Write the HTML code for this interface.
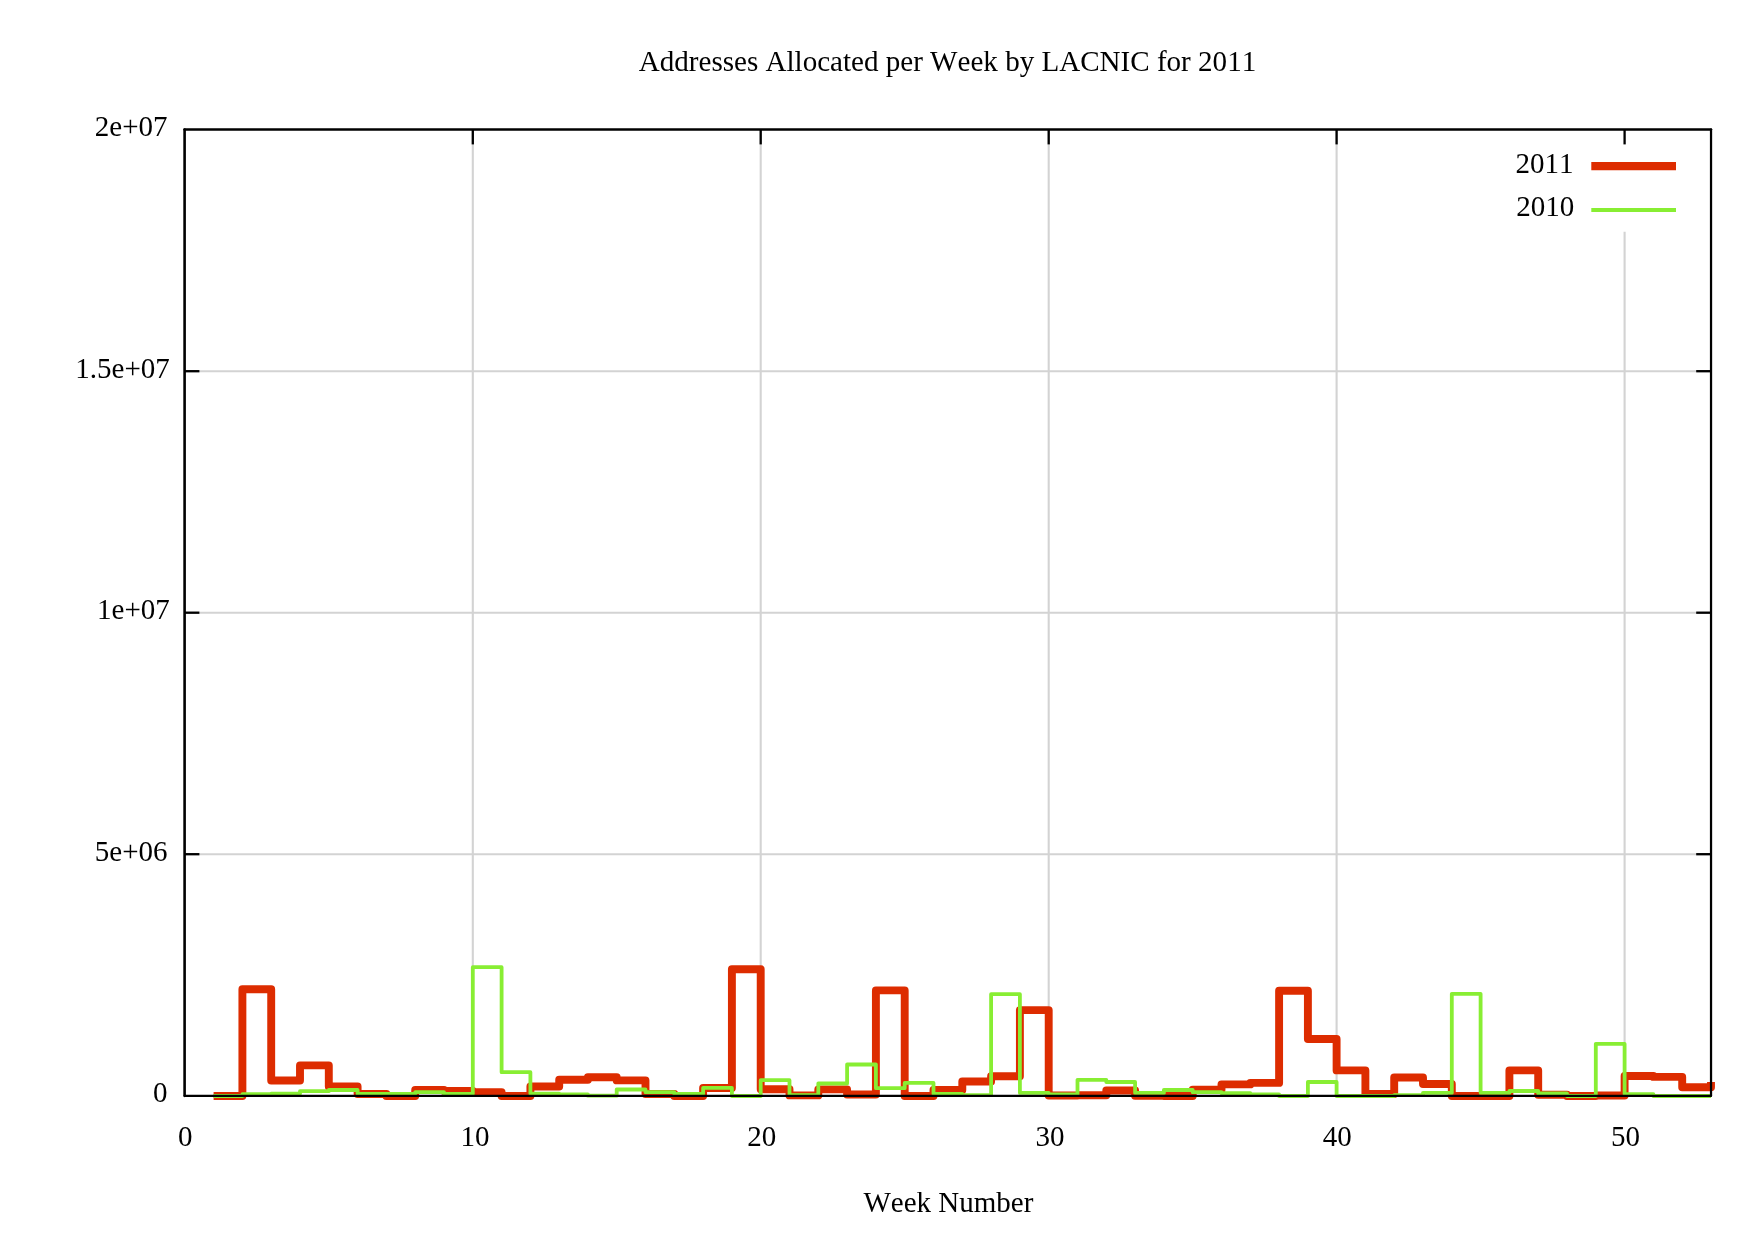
<!DOCTYPE html>
<html lang="en"><head><meta charset="utf-8"><title>Addresses Allocated per Week by LACNIC for 2011</title>
<style>html,body{margin:0;padding:0;background:#fff}svg{display:block;will-change:transform}text{font-family:"Liberation Serif",serif;font-size:29.0px;fill:#000;font-kerning:none}</style></head><body>
<svg width="1762" height="1237" viewBox="0 0 1762 1237">
<rect width="1762" height="1237" fill="#fff"/>
<g stroke="#d3d3d3" stroke-width="2.1" fill="none">
<line x1="184.8" y1="854.2" x2="1711.0" y2="854.2"/>
<line x1="184.8" y1="612.7" x2="1711.0" y2="612.7"/>
<line x1="184.8" y1="371.2" x2="1711.0" y2="371.2"/>
<line x1="472.8" y1="129.6" x2="472.8" y2="1095.8"/>
<line x1="760.7" y1="129.6" x2="760.7" y2="1095.8"/>
<line x1="1048.7" y1="129.6" x2="1048.7" y2="1095.8"/>
<line x1="1336.6" y1="129.6" x2="1336.6" y2="1095.8"/>
<line x1="1624.6" y1="231.8" x2="1624.6" y2="1095.8"/>
</g>
<g stroke="#000" stroke-width="2.3" fill="none">
<line x1="472.8" y1="129.6" x2="472.8" y2="144.4"/>
<line x1="472.8" y1="1095.8" x2="472.8" y2="1081.0"/>
<line x1="760.7" y1="129.6" x2="760.7" y2="144.4"/>
<line x1="760.7" y1="1095.8" x2="760.7" y2="1081.0"/>
<line x1="1048.7" y1="129.6" x2="1048.7" y2="144.4"/>
<line x1="1048.7" y1="1095.8" x2="1048.7" y2="1081.0"/>
<line x1="1336.6" y1="129.6" x2="1336.6" y2="144.4"/>
<line x1="1336.6" y1="1095.8" x2="1336.6" y2="1081.0"/>
<line x1="1624.6" y1="129.6" x2="1624.6" y2="144.4"/>
<line x1="1624.6" y1="1095.8" x2="1624.6" y2="1081.0"/>
<line x1="184.6" y1="854.2" x2="199.4" y2="854.2"/>
<line x1="1711.0" y1="854.2" x2="1696.2" y2="854.2"/>
<line x1="184.6" y1="612.7" x2="199.4" y2="612.7"/>
<line x1="1711.0" y1="612.7" x2="1696.2" y2="612.7"/>
<line x1="184.6" y1="371.2" x2="199.4" y2="371.2"/>
<line x1="1711.0" y1="371.2" x2="1696.2" y2="371.2"/>
</g>
<path d="M213.6 1096.0 L242.4 1096.0 L242.4 989.2 L271.2 989.2 L271.2 1080.5 L300.0 1080.5 L300.0 1065.4 L328.8 1065.4 L328.8 1086.4 L357.6 1086.4 L357.6 1094.0 L386.4 1094.0 L386.4 1096.0 L415.2 1096.0 L415.2 1090.0 L444.0 1090.0 L444.0 1091.0 L472.8 1091.0 L472.8 1092.2 L501.6 1092.2 L501.6 1096.0 L530.4 1096.0 L530.4 1086.5 L559.2 1086.5 L559.2 1079.8 L587.9 1079.8 L587.9 1077.2 L616.7 1077.2 L616.7 1080.4 L645.5 1080.4 L645.5 1094.0 L674.3 1094.0 L674.3 1096.0 L703.1 1096.0 L703.1 1088.0 L731.9 1088.0 L731.9 969.2 L760.7 969.2 L760.7 1089.2 L789.5 1089.2 L789.5 1095.4 L818.3 1095.4 L818.3 1089.4 L847.1 1089.4 L847.1 1094.5 L875.9 1094.5 L875.9 990.4 L904.7 990.4 L904.7 1096.0 L933.5 1096.0 L933.5 1090.0 L962.3 1090.0 L962.3 1081.5 L991.1 1081.5 L991.1 1076.2 L1019.9 1076.2 L1019.9 1010.1 L1048.7 1010.1 L1048.7 1095.5 L1077.5 1095.5 L1077.5 1095.2 L1106.3 1095.2 L1106.3 1090.5 L1135.1 1090.5 L1135.1 1095.7 L1163.9 1095.7 L1163.9 1096.0 L1192.7 1096.0 L1192.7 1089.8 L1221.5 1089.8 L1221.5 1084.4 L1250.3 1084.4 L1250.3 1082.9 L1279.1 1082.9 L1279.1 990.8 L1307.9 990.8 L1307.9 1039.0 L1336.6 1039.0 L1336.6 1070.4 L1365.4 1070.4 L1365.4 1094.0 L1394.2 1094.0 L1394.2 1077.5 L1423.0 1077.5 L1423.0 1084.0 L1451.8 1084.0 L1451.8 1096.0 L1480.6 1096.0 L1480.6 1096.0 L1509.4 1096.0 L1509.4 1070.4 L1538.2 1070.4 L1538.2 1094.8 L1567.0 1094.8 L1567.0 1096.0 L1595.8 1096.0 L1595.8 1095.5 L1624.6 1095.5 L1624.6 1076.0 L1653.4 1076.0 L1653.4 1076.9 L1682.2 1076.9 L1682.2 1087.2 L1711.0 1087.2 L1711.0 1082.0" fill="none" stroke="#dd2c00" stroke-width="7.9" stroke-linejoin="round" stroke-linecap="butt"/>
<path d="M213.6 1096.0 L242.4 1096.0 L242.4 1094.2 L271.2 1094.2 L271.2 1093.7 L300.0 1093.7 L300.0 1091.2 L328.8 1091.2 L328.8 1090.0 L357.6 1090.0 L357.6 1094.0 L386.4 1094.0 L386.4 1094.0 L415.2 1094.0 L415.2 1092.2 L444.0 1092.2 L444.0 1094.0 L472.8 1094.0 L472.8 967.2 L501.6 967.2 L501.6 1072.2 L530.4 1072.2 L530.4 1093.7 L559.2 1093.7 L559.2 1094.5 L587.9 1094.5 L587.9 1095.7 L616.7 1095.7 L616.7 1089.5 L645.5 1089.5 L645.5 1092.2 L674.3 1092.2 L674.3 1094.0 L703.1 1094.0 L703.1 1087.9 L731.9 1087.9 L731.9 1096.0 L760.7 1096.0 L760.7 1080.2 L789.5 1080.2 L789.5 1095.2 L818.3 1095.2 L818.3 1083.5 L847.1 1083.5 L847.1 1064.5 L875.9 1064.5 L875.9 1088.2 L904.7 1088.2 L904.7 1082.9 L933.5 1082.9 L933.5 1094.0 L962.3 1094.0 L962.3 1095.2 L991.1 1095.2 L991.1 994.2 L1019.9 994.2 L1019.9 1092.9 L1048.7 1092.9 L1048.7 1094.5 L1077.5 1094.5 L1077.5 1079.8 L1106.3 1079.8 L1106.3 1082.0 L1135.1 1082.0 L1135.1 1092.9 L1163.9 1092.9 L1163.9 1090.0 L1192.7 1090.0 L1192.7 1092.2 L1221.5 1092.2 L1221.5 1093.2 L1250.3 1093.2 L1250.3 1094.5 L1279.1 1094.5 L1279.1 1096.0 L1307.9 1096.0 L1307.9 1082.0 L1336.6 1082.0 L1336.6 1096.0 L1365.4 1096.0 L1365.4 1096.0 L1394.2 1096.0 L1394.2 1095.2 L1423.0 1095.2 L1423.0 1092.9 L1451.8 1092.9 L1451.8 993.8 L1480.6 993.8 L1480.6 1092.9 L1509.4 1092.9 L1509.4 1091.0 L1538.2 1091.0 L1538.2 1093.5 L1567.0 1093.5 L1567.0 1096.0 L1595.8 1096.0 L1595.8 1043.8 L1624.6 1043.8 L1624.6 1094.2 L1653.4 1094.2 L1653.4 1096.0 L1682.2 1096.0 L1682.2 1096.0 L1711.0 1096.0" fill="none" stroke="#88ee33" stroke-width="3.8" stroke-linejoin="round" stroke-linecap="butt"/>
<line x1="1591.3" y1="166.1" x2="1676" y2="166.1" stroke="#dd2c00" stroke-width="8.1"/>
<line x1="1591.3" y1="210" x2="1676" y2="210" stroke="#88ee33" stroke-width="4.0"/>
<text x="1573.5" y="172.6" text-anchor="end">2011</text>
<text x="1574.2" y="216.1" text-anchor="end">2010</text>
<g stroke="#000" fill="none" stroke-linecap="round">
<line x1="184.60" y1="129.60" x2="184.60" y2="1095.83" stroke-width="2.6"/>
<line x1="184.60" y1="129.60" x2="1711.03" y2="129.60" stroke-width="2.5"/>
<line x1="1711.03" y1="129.60" x2="1711.03" y2="1095.83" stroke-width="2.25"/>
<line x1="184.60" y1="1095.83" x2="1711.03" y2="1095.83" stroke-width="2.25"/>
</g>
<text x="167.4" y="1102.1" text-anchor="end">0</text>
<text x="167.6" y="860.5" text-anchor="end">5e+06</text>
<text x="169.8" y="619.0" text-anchor="end">1e+07</text>
<text x="169.8" y="377.5" text-anchor="end">1.5e+07</text>
<text x="167.5" y="135.9" text-anchor="end">2e+07</text>
<text x="185.25" y="1145.8" text-anchor="middle">0</text>
<text x="474.90" y="1145.8" text-anchor="middle">10</text>
<text x="761.70" y="1145.8" text-anchor="middle">20</text>
<text x="1049.95" y="1145.8" text-anchor="middle">30</text>
<text x="1337.20" y="1145.8" text-anchor="middle">40</text>
<text x="1625.60" y="1145.8" text-anchor="middle">50</text>
<text x="947.5" y="70.5" text-anchor="middle" style="font-size:29.07px">Addresses Allocated per Week by LACNIC for 2011</text>
<text x="948.4" y="1211.9" text-anchor="middle">Week Number</text>
</svg></body></html>
